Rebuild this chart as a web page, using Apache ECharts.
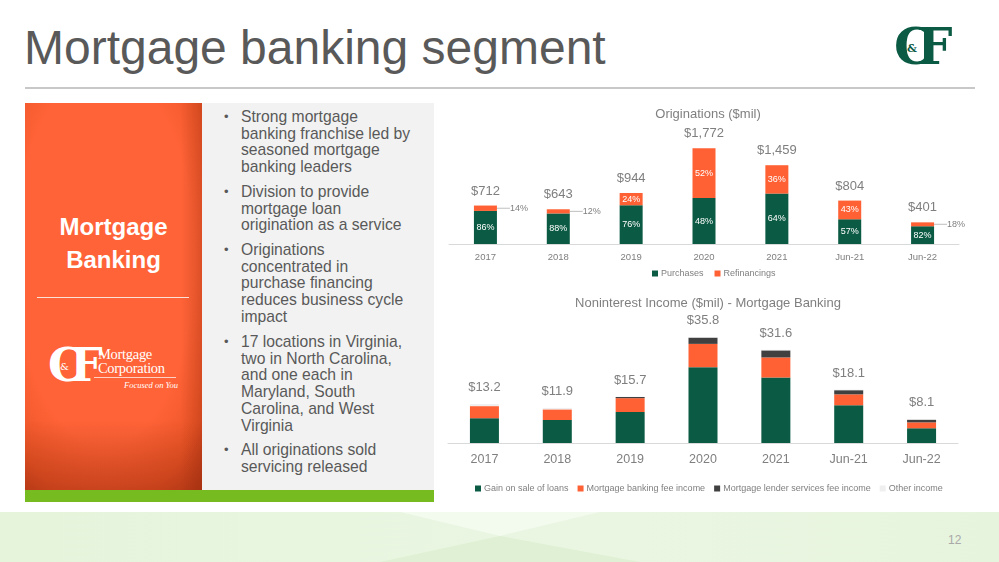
<!DOCTYPE html>
<html>
<head>
<meta charset="utf-8">
<script src="https://cdn.jsdelivr.net/npm/echarts@6/dist/echarts.min.js"></script>
<style>
	body { margin: 0; }
	#page { position: relative; width: 999px; height: 562px; overflow: hidden; background: #fff; font-family: 'Liberation Sans', Arial, sans-serif; }
	.band { position: absolute; left: 0; top: 512px; width: 999px; height: 50px; background: linear-gradient(to right, #e6f4dc, #eaf6e2 60%, #e7f4dd); }
	.band .lite { position: absolute; left: 0; top: 0; width: 999px; height: 50px; background: #f3faee; clip-path: polygon(400px 0, 600px 0, 500px 24px); }
	.band .dark { position: absolute; left: 0; top: 0; width: 999px; height: 50px; background: #dff0d4; clip-path: polygon(500px 24px, 640px 50px, 380px 50px); }
	.title { position: absolute; left: 24px; top: 20px; font-size: 48px; color: #595959; white-space: nowrap; line-height: 56px; }
	.rule { position: absolute; left: 25px; top: 87px; width: 950px; height: 2px; background: #c8c8c8; }
	.logo { position: absolute; left: 894px; top: 16px; width: 60px; height: 62px; color: #0b5a43; font-family: 'DejaVu Serif', serif; font-weight: bold; white-space: nowrap; }
	.logo .c { position: absolute; left: 0; top: 0; font-size: 50px; line-height: 62px; }
	.logo .f { position: absolute; left: 23px; top: 0; font-size: 50px; line-height: 62px; }
	.logo .amp { position: absolute; left: 13px; top: 27px; font-size: 11px; line-height: 12px; }
	.panel { position: absolute; left: 25px; top: 103px; width: 177px; height: 387px; background: radial-gradient(ellipse 85% 80% at 45% 40%, #ff6337 60%, #ec5628 82%, #c0401c 100%); }
	.panel .shade { position: absolute; left: 0; top: 0; width: 177px; height: 387px; background: linear-gradient(to bottom, rgba(150,40,10,0) 82%, rgba(150,40,10,0.45) 100%), linear-gradient(to right, rgba(150,40,10,0) 88%, rgba(150,40,10,0.3) 100%); }
	.panel .head { position: absolute; left: 0; top: 107px; width: 177px; text-align: center; color: #fff; font-weight: bold; font-size: 24px; line-height: 33px; }
	.panel .line { position: absolute; left: 12px; top: 194px; width: 152px; height: 1px; background: #fbe1d6; }
	.panel .mlogo { position: absolute; left: 23px; top: 235px; width: 130px; height: 56px; color: #fff; white-space: nowrap; }
	.mlogo .c { position: absolute; left: 0; top: 0; font-size: 46px; line-height: 54px; font-weight: bold; font-family: 'DejaVu Serif', serif; }
	.mlogo .f { position: absolute; left: 22px; top: 0; font-size: 46px; line-height: 54px; font-weight: bold; font-family: 'DejaVu Serif', serif; }
	.mlogo .amp { position: absolute; left: 12px; top: 24px; font-size: 10px; line-height: 10px; font-family: 'DejaVu Serif', serif; }
	.mlogo .mc { position: absolute; left: 50px; top: 10px; font-size: 14.5px; line-height: 13.5px; font-family: 'Liberation Serif', serif; letter-spacing: -0.3px; }
	.mlogo .ul { position: absolute; left: 46px; top: 39px; width: 82px; height: 1px; background: #fff; opacity: 0.7; }
	.mlogo .fy { position: absolute; left: 76px; top: 42px; font-size: 8.5px; font-style: italic; font-family: 'Liberation Serif', serif; }
	.bullets { position: absolute; left: 202px; top: 103px; width: 232px; height: 387px; background: #f2f2f2; color: #595959; font-size: 15.7px; line-height: 16.7px; }
	.bullets .p { position: absolute; left: 39px; white-space: nowrap; }
	.bullets .p::before { content: '\2022'; position: absolute; left: -17px; font-size: 13px; }
	.strip { position: absolute; left: 25px; top: 490px; width: 409px; height: 12px; background: #76bc21; }
	.pageno { position: absolute; left: 948px; top: 533px; font-size: 12px; color: #a9a9a9; }
	#chart { position: absolute; left: 0; top: 0; width: 999px; height: 562px; }
</style>
</head>
<body>
<div id="page">
	<div class="band"><div class="lite"></div><div class="dark"></div></div>
	<div class="title">Mortgage banking segment</div>
	<div class="rule"></div>
	<div class="logo"><span class="c">C</span><span class="f">F</span><span class="amp">&amp;</span></div>
	<div class="panel">
		<div class="shade"></div>
		<div class="head">Mortgage<br>Banking</div>
		<div class="line"></div>
		<div class="mlogo">
			<span class="c">C</span><span class="f">F</span><span class="amp">&amp;</span>
			<div class="mc">Mortgage<br>Corporation</div>
			<div class="ul"></div>
			<div class="fy">Focused on You</div>
		</div>
	</div>
	<div class="bullets">
		<div class="p" style="top:6px">Strong mortgage<br>banking franchise led by<br>seasoned mortgage<br>banking leaders</div>
		<div class="p" style="top:81px">Division to provide<br>mortgage loan<br>origination as a service</div>
		<div class="p" style="top:139px">Originations<br>concentrated in<br>purchase financing<br>reduces business cycle<br>impact</div>
		<div class="p" style="top:231px">17 locations in Virginia,<br>two in North Carolina,<br>and one each in<br>Maryland, South<br>Carolina, and West<br>Virginia</div>
		<div class="p" style="top:339px">All originations sold<br>servicing released</div>
	</div>
	<div class="strip"></div>
	<div class="pageno">12</div>
	<div id="chart"></div>
</div>
<script>
var categories = ['2017', '2018', '2019', '2020', '2021', 'Jun-21', 'Jun-22'];

// Originations ($mil) and purchase / refinancing split (%)
var originationTotals = [712, 643, 944, 1772, 1459, 804, 401];
var purchasePct = [86, 88, 76, 48, 64, 57, 82];
var refinancePct = [14, 12, 24, 52, 36, 43, 18];

// Noninterest income ($mil)
var incomeTotals = [13.2, 11.9, 15.7, 35.8, 31.6, 18.1, 8.1];
var gainOnSale = [8.4, 7.8, 10.5, 25.7, 22.2, 12.8, 5.0];
var bankingFee = [4.1, 3.6, 4.7, 7.9, 6.8, 3.7, 2.0];
var lenderServices = [0, 0, 0.4, 2.1, 2.4, 1.4, 0.9];
var otherIncome = [0.7, 0.5, 0.1, 0.1, 0.2, 0.2, 0.2];

var GREEN = '#0b5a43', ORANGE = '#ff6134', DARK = '#404040', LIGHT = '#efefef';
var GRAY = '#7f7f7f';
var FONT = 'Liberation Sans';

var purchases = originationTotals.map(function (t, i) { return t * purchasePct[i] / 100; });
var refinancings = originationTotals.map(function (t, i) {
	var v = t * refinancePct[i] / 100;
	if (refinancePct[i] < 20) {
		// small segments get their label outside with a leader line
		return {
			value: v,
			label: { position: 'right', color: GRAY, distance: 3 },
			labelLine: { show: true, lineStyle: { color: '#bfbfbf', width: 1 } }
		};
	}
	return v;
});

var mainChart = echarts.init(document.getElementById('chart'), null, { renderer: 'canvas' });

var option = {
	animation: false,
	textStyle: { fontFamily: FONT },
	title: [{
		text: 'Originations ($mil)',
		left: 703, top: 103, textAlign: 'center',
		textStyle: { color: GRAY, fontSize: 13, fontWeight: 'normal', fontFamily: FONT }
	}, {
		text: 'Noninterest Income ($mil) - Mortgage Banking',
		left: 703, top: 292, textAlign: 'center',
		textStyle: { color: GRAY, fontSize: 13, fontWeight: 'normal', fontFamily: FONT }
	}],
	legend: [{
		data: ['Purchases', 'Refinancings'],
		left: 647, top: 264,
		itemWidth: 6, itemHeight: 6, itemGap: 11,
		icon: 'rect',
		selectedMode: false,
		textStyle: { color: GRAY, fontSize: 9, padding: [0, 0, 0, -2] }
	}, {
		data: ['Gain on sale of loans', 'Mortgage banking fee income', 'Mortgage lender services fee income', 'Other income'],
		left: 470, top: 479,
		itemWidth: 6, itemHeight: 6, itemGap: 9,
		icon: 'rect',
		selectedMode: false,
		textStyle: { color: GRAY, fontSize: 9, padding: [0, 0, 0, -2] }
	}],
	grid: [
		{ left: 449, right: 40, top: 136, height: 108 },
		{ left: 448, right: 41, top: 325, height: 118 }
	],
	xAxis: [{
		type: 'category', gridIndex: 0, data: categories,
		axisLine: { lineStyle: { color: '#d9d9d9' } },
		axisTick: { show: false },
		axisLabel: { color: GRAY, fontSize: 9.5, margin: 8 }
	}, {
		type: 'category', gridIndex: 1, data: categories,
		axisLine: { lineStyle: { color: '#d9d9d9' } },
		axisTick: { show: false },
		axisLabel: { color: GRAY, fontSize: 12.5, margin: 10 }
	}],
	yAxis: [
		{ type: 'value', gridIndex: 0, min: 0, max: 2000, show: false },
		{ type: 'value', gridIndex: 1, min: 0, max: 40, show: false }
	],
	series: [{
		name: 'Purchases', type: 'bar', stack: 'orig', xAxisIndex: 0, yAxisIndex: 0,
		barWidth: 23,
		itemStyle: { color: GREEN },
		label: {
			show: true, position: 'inside', color: '#fff', fontSize: 9,
			formatter: function (p) { return purchasePct[p.dataIndex] + '%'; }
		},
		data: purchases
	}, {
		name: 'Refinancings', type: 'bar', stack: 'orig', xAxisIndex: 0, yAxisIndex: 0,
		barWidth: 23,
		itemStyle: { color: ORANGE },
		label: {
			show: true, position: 'inside', color: '#fff', fontSize: 9,
			formatter: function (p) { return refinancePct[p.dataIndex] + '%'; }
		},
		labelLayout: function (p) {
			return refinancePct[p.dataIndex] < 20 ? { dx: 10 } : {};
		},
		data: refinancings
	}, {
		name: 'Total', type: 'bar', stack: 'orig', xAxisIndex: 0, yAxisIndex: 0,
		barWidth: 23,
		itemStyle: { color: 'transparent' },
		label: {
			show: true, position: 'top', distance: 8, color: GRAY, fontSize: 13,
			formatter: function (p) { return '$' + originationTotals[p.dataIndex].toLocaleString('en-US'); }
		},
		data: categories.map(function () { return 0; })
	}, {
		name: 'Gain on sale of loans', type: 'bar', stack: 'inc', xAxisIndex: 1, yAxisIndex: 1,
		barWidth: 29,
		itemStyle: { color: GREEN },
		data: gainOnSale
	}, {
		name: 'Mortgage banking fee income', type: 'bar', stack: 'inc', xAxisIndex: 1, yAxisIndex: 1,
		barWidth: 29,
		itemStyle: { color: ORANGE },
		data: bankingFee
	}, {
		name: 'Mortgage lender services fee income', type: 'bar', stack: 'inc', xAxisIndex: 1, yAxisIndex: 1,
		barWidth: 29,
		itemStyle: { color: DARK },
		data: lenderServices
	}, {
		name: 'Other income', type: 'bar', stack: 'inc', xAxisIndex: 1, yAxisIndex: 1,
		barWidth: 29,
		itemStyle: { color: LIGHT },
		label: {
			show: true, position: 'top', distance: 10, color: GRAY, fontSize: 13,
			formatter: function (p) { return '$' + incomeTotals[p.dataIndex].toFixed(1); }
		},
		data: otherIncome
	}]
};

mainChart.setOption(option);
</script>
</body>
</html>
